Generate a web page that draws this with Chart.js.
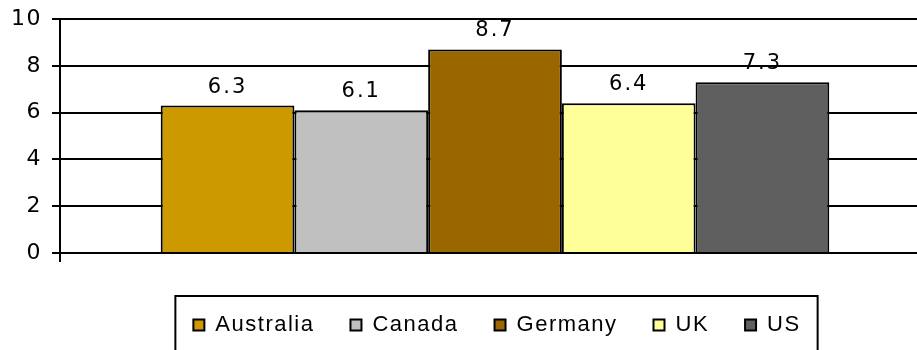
<!DOCTYPE html>
<html>
<head>
<meta charset="utf-8">
<script src="https://cdn.jsdelivr.net/npm/chart.js@4"></script>
<style>
  body { margin: 0; background: #fff; }
  #wrap { width: 917px; height: 350px; overflow: hidden; }
</style>
</head>
<body>
<div id="wrap"><canvas id="chart" width="994" height="350"></canvas></div>
<script>
// data
const countries = ['Australia', 'Canada', 'Germany', 'UK', 'US'];
const values = [6.3, 6.1, 8.7, 6.4, 7.3];
const colors = ['#CC9900', '#C0C0C0', '#996600', '#FFFF99', '#5F5F5F'];
const yMin = 0, yMax = 10, yStep = 2;

// spaced-out text like the old office charts
const spacing = {
    id: 'spacing',
    beforeUpdate(chart) { chart.ctx.letterSpacing = '1.5px'; },
    beforeDraw(chart) { chart.ctx.letterSpacing = '1.5px'; }
};

// value above each bar (drawn first so the grid runs over it)
const valueLabels = {
    id: 'valueLabels',
    beforeDraw(chart) {
        const ctx = chart.ctx;
        ctx.save();
        ctx.font = '21px "DejaVu Sans"';
        ctx.letterSpacing = '2px';
        ctx.fillStyle = '#000';
        ctx.textAlign = 'center';
        ctx.textBaseline = 'alphabetic';
        chart.data.datasets.forEach((ds, i) => {
            const bar = chart.getDatasetMeta(i).data[0];
            ctx.fillText(String(ds.data[0]), bar.x, bar.y - 13);
        });
        ctx.restore();
    }
};

// frame around the legend
const legendFrame = {
    id: 'legendFrame',
    afterDraw(chart) {
        const hb = chart.legend.legendHitBoxes;
        if (!hb.length) return;
        const first = hb[0], last = hb[hb.length - 1];
        const ctx = chart.ctx;
        ctx.save();
        ctx.strokeStyle = '#000';
        ctx.lineWidth = 2;
        ctx.strokeRect(first.left - 18, first.top - 18, last.left + last.width - first.left + 35, 200);
        ctx.restore();
    }
};

const ctx = document.getElementById('chart').getContext('2d');
new Chart(ctx, {
    type: 'bar',
    data: {
        labels: [''],
        datasets: countries.map((name, i) => ({
            label: name,
            data: [values[i]],
            backgroundColor: colors[i],
            borderColor: '#000',
            borderWidth: 2,
            categoryPercentage: 0.7685,
            barPercentage: 1
        }))
    },
    options: {
        responsive: false,
        animation: false,
        layout: { padding: { top: 19, bottom: 4, left: 0, right: 0 } },
        plugins: {
            tooltip: { enabled: false },
            legend: {
                position: 'bottom',
                labels: {
                    boxWidth: 11,
                    boxHeight: 11,
                    padding: 36,
                    color: '#000',
                    font: { family: 'Liberation Sans', size: 22 }
                }
            }
        },
        scales: {
            x: {
                grid: { display: true, drawOnChartArea: false, color: '#000', lineWidth: 2, tickLength: 9 },
                border: { display: false },
                ticks: { display: false },
                afterFit: s => { s.height = 25; }
            },
            y: {
                min: yMin,
                max: yMax,
                ticks: { stepSize: yStep, color: '#000', padding: 10, font: { family: 'DejaVu Sans', size: 22 } },
                grid: { color: '#000', lineWidth: 2, tickLength: 8 },
                border: { color: '#000', width: 2 },
                afterFit: s => { s.width = 60; s.paddingTop = 0; s.paddingBottom = 0; }
            },
            yr: {
                type: 'linear',
                position: 'right',
                grid: { display: false },
                border: { display: false },
                ticks: { display: false },
                afterFit: s => { s.width = 64; s.paddingTop = 0; s.paddingBottom = 0; }
            }
        }
    },
    plugins: [spacing, valueLabels, legendFrame]
});
</script>
</body>
</html>
